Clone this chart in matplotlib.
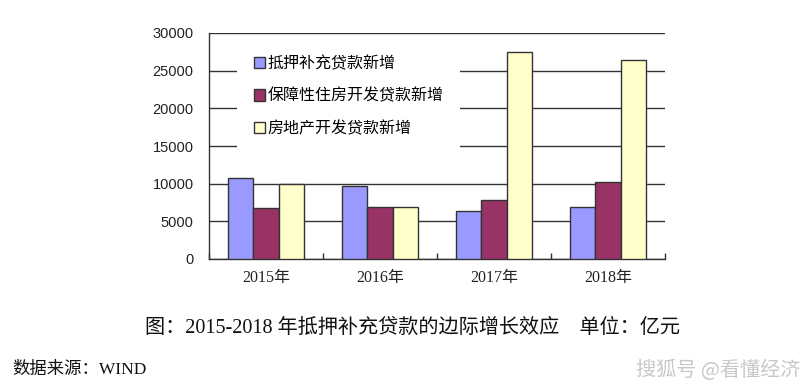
import matplotlib
matplotlib.use("Agg")
import matplotlib.pyplot as plt
import numpy as np

categories = ["2015年", "2016年", "2017年", "2018年"]
series_names = ["抵押补充贷款新增", "保障性住房开发贷款新增", "房地产开发贷款新增"]
psl = [10750, 9700, 6350, 6900]
housing = [6750, 6950, 7850, 10250]
realestate = [9900, 6950, 27500, 26450]
yticks = [0, 5000, 10000, 15000, 20000, 25000, 30000]
colors = ["#9999FF", "#993366", "#FFFFCC"]

plt.rcParams['font.family'] = ['Liberation Sans', 'Noto Sans CJK SC', 'DejaVu Sans']

fig = plt.figure(figsize=(8.12, 3.87), dpi=100)
ax = fig.add_axes([209/812, 1-259/387, (665-209)/812, (259-33)/387])

x = np.arange(len(categories))
w = 0.22
for i, (vals, name, c) in enumerate(zip([psl, housing, realestate], series_names, colors)):
    ax.bar(x + (i-1)*w, vals, width=w, color=c, edgecolor="#333333", linewidth=1.0, label=name, zorder=3)

ax.set_xlim(-0.5, 3.5)
ax.set_ylim(0, 30000)
ax.set_yticks(yticks)
ax.set_yticklabels([str(v) for v in yticks], fontsize=10.5, color="#222222")
ax.tick_params(axis='y', length=0, pad=11)
ax.set_xticks(x)
ax.set_xticklabels(categories, fontsize=11.5, family=['Liberation Serif', 'Noto Sans CJK SC'], color="#222222")
ax.tick_params(axis='x', which='major', length=0, pad=8)
ax.set_xticks(np.arange(-0.5, 4.0, 1.0), minor=True)
ax.tick_params(axis='x', which='minor', direction='in', length=4, width=1, color="#333333")
ax.grid(axis='y', color="#333333", linewidth=1.0, zorder=0)
ax.set_axisbelow(True)
for s in ['top', 'right']:
    ax.spines[s].set_visible(False)
for s in ['left', 'bottom']:
    ax.spines[s].set_color("#333333")
    ax.spines[s].set_linewidth(1.0)

leg = ax.legend(loc='upper left', bbox_to_anchor=(0.062, 0.975), frameon=True, framealpha=1,
                edgecolor='none', facecolor='white', fancybox=False,
                prop={'family': ['Noto Sans CJK SC'], 'size': 11.5},
                handlelength=0.7, handleheight=0.7, handletextpad=0.15,
                labelspacing=0.95, borderpad=1.05, borderaxespad=0)
leg.set_zorder(5)

fig.text(413/812, 1-328/387, "图：2015-2018 年抵押补充贷款的边际增长效应　单位：亿元",
         ha='center', va='center', fontsize=14.5,
         family=['Liberation Serif', 'Noto Sans CJK SC'], color="#111111")
fig.text(12/812, 1-370/387, "数据来源：WIND", ha='left', va='center', fontsize=12.5,
         family=['Liberation Serif', 'Noto Sans CJK SC'], color="#111111")
fig.text(800/812, 1-370/387, "搜狐号 @看懂经济", ha='right', va='center', fontsize=14.5,
         family=['Noto Sans CJK SC'], color="#c8c8c8", style='italic')

fig.savefig("out.png", dpi=100)
